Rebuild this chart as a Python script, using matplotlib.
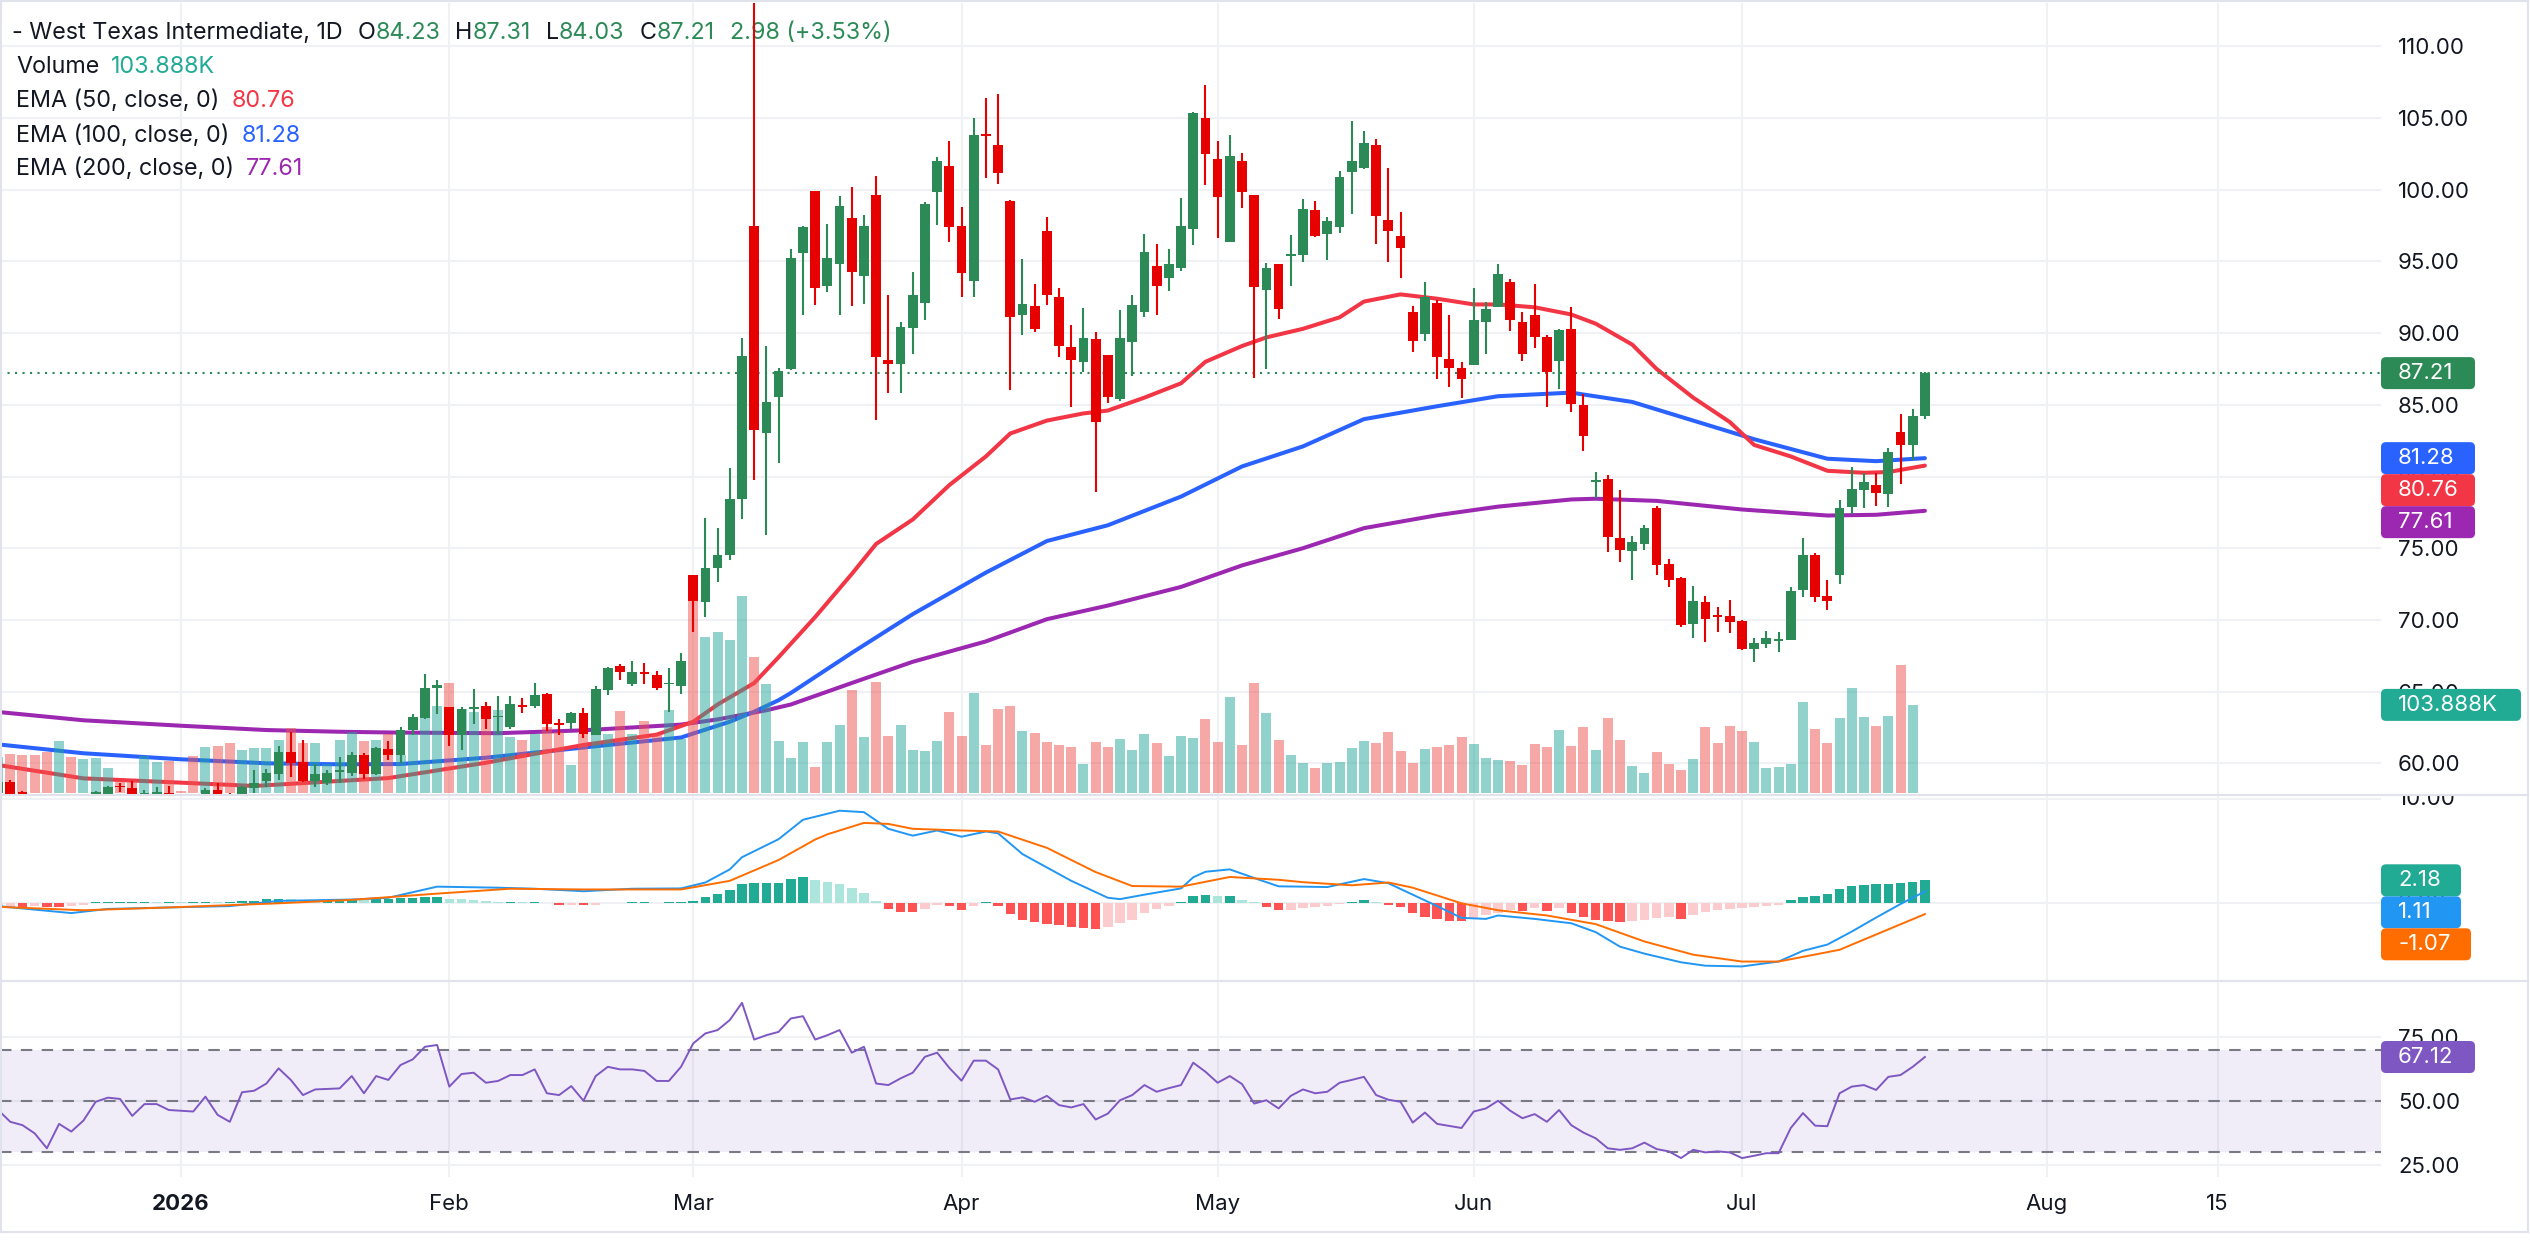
import numpy as np
import matplotlib
matplotlib.use("Agg")
import matplotlib.pyplot as plt
from matplotlib import transforms as mtransforms
from matplotlib.patches import FancyBboxPatch
from matplotlib.lines import Line2D

plt.rcParams['font.family'] = ['Inter', 'DejaVu Sans']

# ---- daily bars, first bar is the one cut by the left edge
opens = [57.95, 58.72, 58.02, 57.70, 57.50, 57.20, 57.60, 57.30, 57.60, 57.80,
         58.40, 58.25, 57.70, 57.80, 57.90, 57.70, 57.60, 57.80, 58.14, 57.85,
         57.70, 58.25, 58.76, 59.28, 60.76, 60.09, 58.76, 58.60, 59.40, 59.30,
         60.58, 59.25, 60.97, 60.57, 62.35, 63.13, 65.25, 63.95, 61.99, 63.77,
         64.02, 63.20, 62.53, 64.05, 64.02, 64.84, 62.78, 62.78, 63.52, 62.00,
         65.13, 66.80, 65.55, 66.40, 66.19, 65.50, 65.38, 73.10, 71.25, 73.63,
         74.52, 78.43, 97.47, 83.06, 85.55, 87.49, 95.62, 99.90, 93.31, 94.83,
         98.02, 93.97, 99.63, 88.11, 87.82, 90.35, 92.10, 99.83, 101.64, 97.46,
         93.64, 103.90, 103.12, 99.24, 91.27, 91.87, 97.13, 92.53, 89.03, 87.98,
         89.56, 88.48, 85.41, 89.40, 91.50, 94.66, 93.81, 94.56, 97.26, 105.03,
         102.13, 96.37, 101.97, 99.63, 92.99, 94.80, 95.40, 95.45, 98.58, 96.93,
         97.43, 101.21, 101.54, 103.12, 97.92, 96.80, 91.44, 89.96, 92.10, 88.21,
         87.59, 87.75, 90.75, 91.83, 93.58, 90.78, 91.27, 89.73, 88.08, 90.29,
         84.98, 79.60, 79.82, 75.69, 74.81, 75.30, 77.82, 73.90, 72.92, 69.74,
         71.26, 70.30, 70.28, 69.94, 67.98, 68.35, 68.55, 68.57, 72.07, 74.52,
         71.70, 73.12, 77.89, 79.09, 79.41, 78.80, 83.08, 82.22, 84.23]
highs = [58.80, 58.83, 58.05, 57.85, 57.80, 57.80, 57.80, 57.85, 58.07, 58.40,
         58.60, 58.76, 58.14, 58.32, 58.40, 57.85, 57.80, 58.25, 58.60, 57.90,
         58.45, 59.53, 59.58, 61.21, 62.21, 61.63, 59.95, 59.53, 60.42, 60.76,
         60.74, 61.16, 61.56, 62.53, 63.42, 66.26, 65.80, 63.95, 63.95, 65.20,
         64.31, 64.66, 64.66, 64.56, 65.62, 64.91, 63.06, 63.60, 63.88, 65.38,
         66.73, 66.91, 67.15, 67.00, 66.44, 66.62, 67.69, 73.10, 77.12, 76.41,
         80.57, 89.68, 113.50, 89.11, 87.54, 95.88, 97.46, 99.90, 97.59, 99.57,
         100.16, 98.25, 100.98, 92.69, 90.78, 94.24, 99.11, 102.30, 103.38, 98.78,
         105.00, 106.41, 106.64, 99.30, 95.16, 93.41, 98.12, 93.15, 90.55, 91.77,
         90.06, 88.48, 91.60, 92.69, 96.93, 96.21, 95.88, 99.43, 105.42, 107.33,
         103.38, 103.84, 102.53, 99.63, 94.89, 94.80, 96.87, 99.34, 99.24, 98.09,
         101.31, 104.77, 104.11, 103.51, 101.54, 98.45, 91.87, 93.58, 92.33, 91.27,
         87.98, 93.15, 92.16, 94.83, 93.74, 91.44, 93.41, 89.86, 90.29, 91.81,
         85.72, 80.31, 80.09, 79.04, 75.86, 76.59, 77.94, 74.22, 72.99, 72.36,
         71.70, 70.89, 71.38, 69.99, 68.77, 69.26, 69.13, 72.26, 75.69, 74.64,
         72.80, 78.36, 80.63, 80.21, 80.26, 81.97, 84.37, 84.72, 87.31]
lows = [57.70, 57.40, 57.50, 57.10, 57.00, 57.00, 57.10, 57.10, 57.40, 57.60,
        58.02, 57.60, 57.50, 57.60, 57.40, 57.30, 57.10, 57.60, 57.60, 57.40,
        57.50, 57.90, 58.32, 58.83, 59.07, 58.72, 58.37, 58.49, 58.60, 59.11,
        58.90, 59.20, 60.23, 60.04, 62.00, 63.06, 63.42, 61.18, 60.93, 62.71,
        62.42, 62.07, 62.42, 63.53, 63.88, 62.28, 62.00, 62.42, 61.74, 61.95,
        64.77, 65.80, 65.38, 65.55, 65.13, 63.60, 64.84, 69.18, 70.18, 72.67,
        74.17, 77.01, 79.79, 75.94, 80.93, 87.40, 91.27, 91.93, 92.85, 91.27,
        91.87, 92.03, 83.97, 85.84, 85.84, 88.57, 90.88, 97.53, 96.37, 92.49,
        92.49, 100.82, 100.42, 86.01, 89.89, 90.06, 91.93, 88.31, 84.86, 87.32,
        78.93, 85.12, 85.25, 86.99, 91.11, 91.27, 92.92, 94.30, 96.11, 100.32,
        96.60, 96.37, 98.74, 86.90, 87.49, 91.01, 93.31, 94.96, 96.70, 95.12,
        96.97, 98.28, 101.41, 96.21, 94.96, 93.81, 88.71, 89.46, 86.77, 86.27,
        85.45, 87.75, 88.57, 91.83, 90.12, 88.05, 88.97, 84.86, 86.11, 84.50,
        81.80, 78.50, 74.76, 74.07, 72.80, 74.88, 73.12, 72.31, 69.50, 68.77,
        68.47, 69.19, 69.08, 67.91, 67.05, 68.03, 67.79, 68.57, 71.63, 71.26,
        70.72, 72.51, 77.40, 77.82, 77.94, 77.87, 79.48, 81.17, 84.03]
closes = [58.70, 57.60, 57.70, 57.30, 57.20, 57.60, 57.30, 57.70, 58.00, 58.37,
          58.33, 57.85, 57.95, 58.00, 57.60, 57.50, 57.30, 58.14, 57.85, 57.60,
          58.37, 58.60, 59.30, 60.76, 60.04, 58.79, 59.25, 59.30, 59.48, 60.58,
          59.25, 61.09, 60.58, 62.35, 63.24, 65.27, 65.45, 61.99, 63.78, 63.95,
          63.06, 63.30, 64.13, 63.95, 64.77, 62.71, 62.68, 63.52, 62.07, 65.20,
          66.62, 66.34, 66.34, 66.20, 65.27, 65.60, 67.15, 71.32, 73.63, 74.52,
          78.43, 88.43, 83.24, 85.23, 87.36, 95.22, 97.43, 93.18, 95.22, 98.84,
          94.24, 97.46, 88.31, 87.82, 90.45, 92.66, 99.01, 101.97, 97.43, 94.17,
          103.84, 103.75, 101.15, 91.11, 92.03, 90.29, 92.69, 89.07, 88.15, 89.63,
          83.80, 85.51, 89.63, 91.93, 95.65, 93.31, 94.83, 97.46, 105.36, 102.46,
          99.50, 102.36, 99.83, 93.25, 94.56, 91.70, 95.50, 98.65, 96.80, 97.79,
          100.88, 101.97, 103.29, 98.19, 97.13, 95.95, 89.46, 92.53, 88.31, 87.59,
          86.77, 90.91, 91.67, 94.14, 90.94, 88.54, 89.70, 87.32, 90.22, 85.08,
          82.83, 79.75, 75.79, 74.88, 75.44, 76.40, 73.83, 72.80, 69.62, 71.34,
          70.04, 70.20, 69.87, 67.98, 68.40, 68.77, 68.65, 72.02, 74.52, 71.63,
          71.33, 77.77, 79.11, 79.65, 78.87, 81.68, 82.22, 84.23, 87.21]
# volume in thousands, the newest bar has no column drawn
volume_k = [42.8, 46.0, 44.8, 44.8, 48.7, 61.3, 42.8, 40.1, 41.3, 29.5,
            14.5, 14.1, 43.2, 36.1, 37.3, 2.7, 44.0, 54.6, 55.8, 59.3,
            51.1, 53.4, 53.4, 62.8, 76.6, 59.3, 59.3, 34.5, 62.8, 72.3,
            61.7, 62.8, 69.9, 45.0, 69.0, 90.0, 102.0, 130.0, 99.0, 96.0,
            87.0, 98.0, 66.0, 63.0, 69.0, 78.0, 72.0, 33.0, 69.0, 69.0,
            70.0, 97.0, 69.0, 85.0, 69.0, 98.0, 64.0, 228.0, 184.0, 190.0,
            180.0, 232.0, 160.0, 129.0, 61.5, 40.8, 60.2, 31.2, 60.2, 79.7,
            121.4, 65.8, 130.9, 67.4, 79.7, 50.8, 49.0, 61.3, 95.3, 67.4,
            118.1, 56.9, 99.2, 102.5, 73.0, 70.7, 59.7, 56.9, 54.1, 34.1,
            60.2, 54.1, 63.5, 50.8, 69.7, 59.1, 43.5, 67.4, 64.6, 87.5,
            60.2, 113.1, 56.9, 129.7, 94.2, 62.5, 44.7, 35.1, 29.6, 35.1,
            36.9, 52.9, 61.3, 59.1, 71.9, 49.6, 35.1, 51.9, 54.1, 56.9,
            65.8, 58.0, 41.3, 39.0, 38.0, 33.5, 58.0, 54.1, 74.2, 55.9,
            77.8, 50.9, 88.9, 62.5, 32.3, 24.1, 48.8, 34.4, 27.4, 40.6,
            77.8, 59.2, 79.0, 73.2, 60.0, 29.4, 30.7, 34.4, 107.2, 75.3,
            59.2, 88.9, 124.1, 89.7, 79.0, 90.5, 151.0, 103.888, np.nan]

# moving averages, read at a set of bars (bar 0 = first bar fully in view)
ema50_bar = [-1, 6, 14, 20, 26, 31, 39, 47, 53, 56, 58, 61, 63, 66, 69, 71, 74, 77,
             80, 82, 85, 88, 90, 93, 96, 98, 101, 103, 106, 109, 111, 114, 117, 120,
             122, 125, 128, 130, 133, 135, 138, 141, 143, 146, 149, 152, 154, 157]
ema50_val = [59.88, 58.95, 58.65, 58.42, 58.72, 58.97, 60.04, 61.28, 62.0, 62.9, 64.1,
             65.6, 67.4, 70.2, 73.2, 75.3, 77.0, 79.4, 81.4, 83.0, 83.9, 84.4, 84.6,
             85.5, 86.5, 88.0, 89.1, 89.7, 90.3, 91.1, 92.2, 92.7, 92.4, 92.0, 92.0,
             91.8, 91.3, 90.66, 89.2, 87.5, 85.5, 83.8, 82.2, 81.4, 80.4, 80.26, 80.31, 80.76]
ema100_bar = [-1, 6, 14, 21, 27, 32, 39, 47, 55, 59, 61, 63, 64, 69, 74, 80, 85, 90,
              96, 101, 106, 111, 117, 122, 128, 133, 138, 143, 149, 153, 157]
ema100_val = [61.32, 60.70, 60.28, 60.0, 59.93, 59.95, 60.39, 61.1, 61.8, 62.9, 63.6,
              64.4, 64.9, 67.7, 70.4, 73.3, 75.5, 76.6, 78.6, 80.7, 82.1, 84.0, 84.9,
              85.6, 85.85, 85.2, 83.9, 82.6, 81.24, 81.07, 81.28]
ema200_bar = [-1, 6, 14, 21, 27, 32, 40, 47, 55, 58, 62, 64, 69, 74, 80, 85, 90, 96,
              101, 106, 111, 117, 122, 128, 130, 135, 142, 149, 153, 157]
ema200_val = [63.58, 63.0, 62.62, 62.32, 62.2, 62.14, 62.1, 62.3, 62.7, 63.06, 63.7,
              64.1, 65.6, 67.08, 68.5, 70.05, 71.0, 72.3, 73.8, 75.0, 76.4, 77.3, 77.9,
              78.4, 78.45, 78.3, 77.7, 77.28, 77.33, 77.61]

macd_bar = [-1, 3, 5, 8, 13, 18, 22, 28, 31, 35, 40, 43, 47, 51, 55, 57, 59, 60, 63,
            65, 68, 70, 72, 74, 76, 78, 80, 81, 83, 87, 90, 91, 93, 96, 97, 98, 100,
            102, 104, 106, 108, 111, 113, 115, 117, 119, 121, 122, 125, 128, 130, 132,
            134, 137, 139, 142, 145, 147, 149, 151, 153, 155, 157]
macd_val = [-0.3, -0.75, -0.97, -0.57, -0.43, -0.3, 0.2, 0.33, 0.5, 1.57, 1.47, 1.37,
            1.13, 1.37, 1.4, 1.97, 3.23, 4.4, 6.13, 8.0, 8.87, 8.73, 7.13, 6.47, 6.97,
            6.37, 6.87, 6.7, 4.7, 2.13, 0.5, 0.37, 0.8, 1.4, 2.47, 3.0, 3.23, 2.4, 1.6,
            1.57, 1.53, 2.3, 1.9, 0.8, -0.3, -1.43, -1.53, -1.2, -1.53, -1.95, -2.8,
            -4.2, -4.87, -5.7, -6.03, -6.1, -5.63, -4.6, -4.0, -2.75, -1.4, -0.1, 1.11]
signal_bar = [-1, 6, 13, 22, 28, 35, 41, 47, 55, 59, 63, 66, 67, 70, 72, 74, 78, 81,
              85, 89, 92, 96, 100, 104, 106, 110, 113, 115, 119, 122, 126, 130, 134,
              138, 142, 145, 150, 153, 157]
signal_val = [-0.37, -0.7, -0.43, -0.03, 0.3, 0.9, 1.37, 1.3, 1.3, 2.13, 4.13, 6.1, 6.6,
              7.7, 7.6, 7.13, 6.97, 6.87, 5.3, 2.97, 1.63, 1.57, 2.5, 2.23, 2.0, 1.7,
              1.97, 1.47, -0.03, -0.7, -1.2, -2.03, -3.7, -4.97, -5.63, -5.63, -4.5,
              -3.03, -1.07]
macd_hist = [-0.35, -0.35, -0.40, -0.30, -0.35, -0.40, -0.30, -0.20, 0.05, 0.10,
             0.10, 0.12, 0.12, 0.10, 0.10, 0.08, 0.08, 0.08, 0.07, 0.10,
             0.15, 0.20, 0.35, 0.40, 0.35, 0.30, 0.28, 0.30, 0.32, 0.35,
             0.33, 0.40, 0.42, 0.45, 0.50, 0.55, 0.60, 0.40, 0.35, 0.30,
             0.20, 0.10, 0.10, 0.05, 0.06, -0.05, -0.15, -0.15, -0.20, -0.15,
             -0.05, 0.02, 0.05, 0.05, 0.04, 0.05, 0.06, 0.20, 0.60, 0.87,
             1.20, 1.87, 1.93, 1.93, 1.93, 2.33, 2.53, 2.20, 2.00, 1.87,
             1.43, 0.93, 0.20, -0.57, -0.83, -0.90, -0.57, -0.23, -0.30, -0.67,
             -0.33, 0.05, -0.30, -1.10, -1.60, -1.87, -2.00, -2.13, -2.27, -2.40,
             -2.50, -2.27, -1.93, -1.60, -0.93, -0.60, -0.25, 0.10, 0.70, 0.77,
             0.70, 0.70, 0.30, 0.10, -0.40, -0.70, -0.70, -0.45, -0.40, -0.30,
             -0.10, 0.10, 0.30, 0.10, -0.20, -0.40, -1.00, -1.30, -1.50, -1.70,
             -1.75, -1.50, -1.20, -1.00, -0.70, -0.75, -0.50, -0.75, -0.50, -1.00,
             -1.30, -1.60, -1.70, -1.80, -1.70, -1.60, -1.40, -1.30, -1.50, -1.20,
             -0.90, -0.70, -0.60, -0.50, -0.40, -0.30, -0.15, 0.30, 0.60, 0.70,
             0.90, 1.30, 1.60, 1.70, 1.80, 1.85, 1.95, 2.05, 2.18]
rsi = [46.5, 41.9, 40.6, 37.4, 31.6, 41.1, 38.1, 42.4, 49.7, 51.3,
       50.8, 44.2, 48.8, 48.8, 46.5, 46.2, 45.9, 51.7, 44.6, 41.9,
       53.4, 54.0, 56.8, 62.7, 58.2, 52.3, 54.5, 54.7, 54.9, 59.7,
       53.0, 59.7, 58.2, 64.0, 66.2, 71.1, 71.8, 55.6, 60.5, 61.0,
       57.1, 57.8, 60.1, 60.1, 62.3, 53.0, 52.3, 55.8, 50.1, 59.7,
       63.3, 62.3, 62.3, 61.7, 57.8, 57.8, 63.3, 72.4, 76.3, 77.6,
       81.5, 88.2, 73.9, 75.6, 76.9, 82.1, 83.0, 73.9, 75.6, 77.6,
       68.8, 71.1, 56.8, 56.2, 58.8, 61.0, 67.2, 68.8, 62.9, 57.9,
       65.7, 65.7, 62.3, 50.6, 51.4, 49.7, 52.0, 48.4, 47.5, 48.8,
       42.8, 45.1, 50.3, 52.3, 56.2, 53.6, 55.0, 56.2, 64.9, 61.4,
       57.1, 59.7, 56.6, 49.0, 50.3, 47.1, 52.0, 54.5, 53.0, 53.6,
       57.1, 58.2, 59.4, 52.3, 50.5, 49.7, 41.6, 45.5, 41.1, 40.3,
       39.5, 45.9, 47.1, 50.1, 46.2, 43.3, 44.9, 41.9, 46.5, 40.6,
       37.7, 35.5, 31.6, 31.0, 31.6, 33.8, 31.3, 30.4, 27.8, 31.0,
       30.0, 30.4, 30.0, 27.8, 28.7, 29.7, 29.7, 39.5, 45.3, 40.4,
       40.2, 53.0, 55.6, 56.2, 54.3, 59.4, 60.1, 63.3, 67.12]

tick_pos = [14, 36, 56, 78, 99, 120, 142, 167, 181]
tick_lab = ['2026', 'Feb', 'Mar', 'Apr', 'May', 'Jun', 'Jul', 'Aug', '15']
price_ticks = [60, 65, 70, 75, 80, 85, 90, 95, 100, 105, 110]

# ---- colours
GREEN = '#2c8a57'
RED = '#e60000'
DARK = '#131722'
GRID = '#f0f1f4'
SEP = '#e0e3eb'

W, H = 2530, 1253
fig = plt.figure(figsize=(W / 100, H / 100), dpi=100)
ident = mtransforms.IdentityTransform()


def rect(l, t, r, b):
    return [l / W, 1 - b / H, (r - l) / W, (b - t) / H]


x = np.arange(len(closes)) - 1
o, hi, lo, c = map(np.array, (opens, highs, lows, closes))
up = c >= o

ax_p = fig.add_axes(rect(0, 3, 2381, 795))
ax_v = fig.add_axes(rect(0, 3, 2381, 795), sharex=ax_p)
ax_c = fig.add_axes(rect(0, 3, 2381, 795), sharex=ax_p, sharey=ax_p)
ax_m = fig.add_axes(rect(0, 795, 2381, 981), sharex=ax_p)
ax_ms = fig.add_axes(rect(2381, 795, 2528, 981))   # right scale strip of the MACD pane
ax_r = fig.add_axes(rect(0, 981, 2381, 1177), sharex=ax_p)

ax_p.set_xlim(-0.845, 194.4)
ax_p.set_ylim(57.79, 113.02)
ax_v.set_ylim(-2.36, 931.4)
ax_m.set_ylim(-7.5, 10.38)
ax_ms.set_ylim(-7.5, 10.38)
ax_r.set_ylim(20.43, 96.69)

for ax in (ax_p, ax_m, ax_r):
    for s in ax.spines.values():
        s.set_visible(False)
    ax.set_facecolor('white')
    ax.set_xticks(tick_pos)
    ax.grid(True, color=GRID, lw=1.5)
    ax.set_axisbelow(True)
    ax.yaxis.tick_right()
    ax.tick_params(length=0, labelsize=16, labelcolor=DARK, pad=12.2)
    ax.tick_params(axis='x', labelbottom=False)
for ax in (ax_v, ax_c, ax_ms):
    ax.set_facecolor('none')
    ax.axis('off')

# ---- price panel
ax_p.set_yticks(price_ticks)
ax_p.set_yticklabels([f'{v:.2f}' for v in price_ticks])
ax_p.plot(ema200_bar, ema200_val, color='#9c27b0', lw=2.9, solid_capstyle='round')
ax_p.plot(ema100_bar, ema100_val, color='#2962ff', lw=2.9, solid_capstyle='round')
ax_p.plot(ema50_bar, ema50_val, color='#f23645', lw=2.9, solid_capstyle='round')
ax_p.axhline(closes[-1], color=GREEN, lw=1.5, ls=(0, (1, 2.6)))

vol = np.array(volume_k)
ok = np.isfinite(vol)
vcol = np.where(up, '#26a69a', '#ef5350')
ax_v.bar(x[ok], vol[ok], width=0.82, color=vcol[ok], alpha=0.5)

ccol = np.where(up, GREEN, RED)
ax_c.vlines(x, lo, hi, color=ccol, lw=1.5)
ax_c.bar(x, np.maximum(np.abs(c - o), 0.12), bottom=np.minimum(o, c), width=0.8, color=ccol)

# ---- MACD panel
hist = np.array(macd_hist)
prev = np.concatenate([[hist[0]], hist[:-1]])
hcol = np.where(hist >= 0, np.where(hist >= prev, '#22ab94', '#ace5dc'),
                np.where(hist < prev, '#ff5252', '#fccbcd'))
ax_m.bar(x, hist, width=0.78, color=hcol)
ax_m.plot(macd_bar, macd_val, color='#2196f3', lw=1.4)
ax_m.plot(signal_bar, signal_val, color='#ff6d00', lw=1.4)
ax_m.set_yticks([0, 10])
ax_m.tick_params(axis='y', labelright=False)
# scale labels of this pane sit in their own strip so the top one is cut by the pane edge
for v in (0, 10):
    ax_ms.text(17 / 147, v, f'{v:.2f}', fontsize=16, color=DARK, va='center', ha='left',
               transform=mtransforms.blended_transform_factory(ax_ms.transAxes, ax_ms.transData),
               clip_on=True)

# ---- RSI panel
ax_r.axhspan(30, 70, color='#7e57c2', alpha=0.1, lw=0)
for lvl in (70, 50, 30):
    ax_r.axhline(lvl, color='#787b86', lw=1.5, ls=(0, (5.5, 4.5)))
ax_r.plot(x, rsi, color='#7e57c2', lw=1.4)
ax_r.set_yticks([25, 50, 75])
ax_r.set_yticklabels(['25.00', '50.00', '75.00'])
ax_r.set_xticklabels(tick_lab)
ax_r.tick_params(axis='x', labelbottom=True, pad=12)
ax_r.get_xticklabels()[0].set_fontweight('bold')


# ---- legends
def legend_row(xp, yp, parts, fs=16.8):
    t = ax_p.text(xp / W, 1 - yp / H, parts[0][0], color=parts[0][1], fontsize=fs,
                  va='center', ha='left', transform=fig.transFigure)
    for txt, col, gap in parts[1:]:
        t = ax_p.annotate(txt, xy=(1, 0.5), xycoords=t, xytext=(gap, 0),
                          textcoords='offset pixels', va='center', ha='left',
                          color=col, fontsize=fs, annotation_clip=False)


legend_row(12, 33, [('- West Texas Intermediate, 1D', DARK, 0),
                    ('O', DARK, 15), ('84.23', GREEN, 0),
                    ('H', DARK, 15), ('87.31', GREEN, 0),
                    ('L', DARK, 15), ('84.03', GREEN, 0),
                    ('C', DARK, 15), ('87.21', GREEN, 0),
                    ('2.98 (+3.53%)', GREEN, 15)])
legend_row(16, 67, [('Volume', DARK, 0), ('103.888K', '#22ab94', 12)])
legend_row(16, 101, [('EMA (50, close, 0)', DARK, 0), ('80.76', '#f23645', 12)])
legend_row(16, 136, [('EMA (100, close, 0)', DARK, 0), ('81.28', '#2962ff', 12)])
legend_row(16, 169, [('EMA (200, close, 0)', DARK, 0), ('77.61', '#9c27b0', 12)])
legend_row(16, 828, [('MACD (12, 26, close, 9)', DARK, 0), ('2.18', '#22ab94', 14),
                     ('1.11', '#2196f3', 14), ('-1.07', '#ff6d00', 14)])
legend_row(16, 1015, [('RSI (14)', DARK, 0), ('67.12', '#7e57c2', 14)])


# ---- value tags on the right scale, pushed down when they would overlap
def draw_tags(ax, tags, h=32):
    last = None
    for val, txt, col, w in sorted(tags, key=lambda t: -t[0]):
        yc = ax.transData.transform((0, val))[1]
        if last is not None and yc > last - h:
            yc = last - h
        last = yc
        fig.add_artist(FancyBboxPatch((2381, yc - h / 2), w, h,
                                      boxstyle='round,pad=0,rounding_size=5',
                                      fc=col, ec='none', transform=ident))
        fig.text(2398, yc, txt, color='white', fontsize=16, va='center', ha='left',
                 transform=ident)


draw_tags(ax_p, [(closes[-1], '87.21', GREEN, 94),
                 (ema100_val[-1], '81.28', '#2962ff', 94),
                 (ema50_val[-1], '80.76', '#f23645', 94),
                 (ema200_val[-1], '77.61', '#9c27b0', 94)])
draw_tags(ax_v, [(volume_k[-2], '103.888K', '#22ab94', 140)])
draw_tags(ax_m, [(macd_hist[-1], '2.18', '#22ab94', 80),
                 (macd_val[-1], '1.11', '#2196f3', 80),
                 (signal_val[-1], '-1.07', '#ff6d00', 90)])
draw_tags(ax_r, [(rsi[-1], '67.12', '#7e57c2', 94)])


# ---- separators and outer frame
def hline(y, x0=0, x1=2528):
    fig.add_artist(Line2D([x0, x1], [H - y, H - y], color=SEP, lw=1.5, transform=ident))


def vline(xp, y0=0, y1=1232):
    fig.add_artist(Line2D([xp, xp], [H - y0, H - y1], color=SEP, lw=1.5, transform=ident))


hline(795)
hline(981)
hline(1)
hline(1232)
vline(1)
vline(2528)

fig.savefig('out.png', dpi=100, facecolor='white')
